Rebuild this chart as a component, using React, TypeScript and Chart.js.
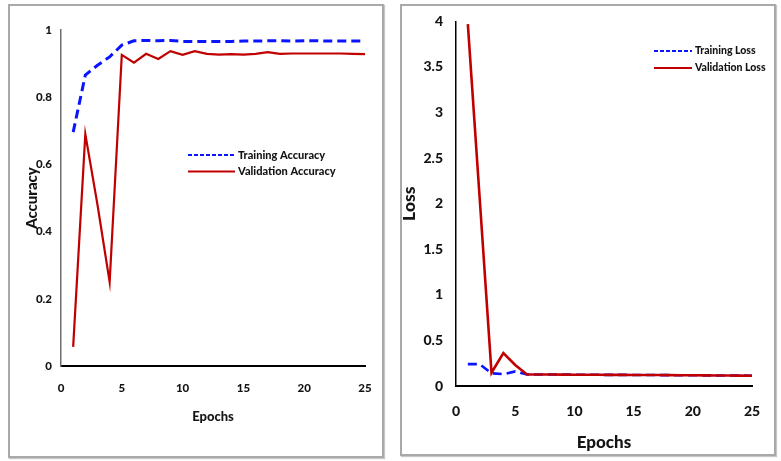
import React, { useEffect, useRef } from "react";
import { Chart, registerables } from "chart.js";

Chart.register(...registerables);

// ---------- data ----------
const epochs = [1, 2, 3, 4, 5, 6, 7, 8, 9, 10, 11, 12, 13, 14, 15, 16, 17, 18, 19, 20, 21, 22, 23, 24, 25];

const trainingAccuracy = [
  0.696, 0.866, 0.895, 0.92, 0.955, 0.968, 0.969, 0.968, 0.969, 0.966, 0.966, 0.966, 0.966,
  0.966, 0.967, 0.967, 0.968, 0.968, 0.967, 0.968, 0.968, 0.967, 0.967, 0.967, 0.967,
];
const validationAccuracy = [
  0.057, 0.69, 0.48, 0.25, 0.926, 0.903, 0.929, 0.914, 0.937, 0.926, 0.937, 0.929, 0.927,
  0.928, 0.927, 0.929, 0.934, 0.929, 0.93, 0.93, 0.93, 0.93, 0.93, 0.929, 0.928,
];

const trainingLoss = [
  0.24, 0.24, 0.14, 0.13, 0.16, 0.127, 0.126, 0.126, 0.125, 0.124, 0.124, 0.123, 0.122,
  0.122, 0.121, 0.12, 0.12, 0.119, 0.118, 0.118, 0.117, 0.116, 0.115, 0.114, 0.112,
];
const validationLoss = [
  3.97, 2.06, 0.145, 0.36, 0.23, 0.127, 0.126, 0.126, 0.125, 0.124, 0.124, 0.123, 0.122,
  0.122, 0.121, 0.12, 0.12, 0.119, 0.118, 0.118, 0.117, 0.116, 0.115, 0.114, 0.112,
];

const accuracyTicks = [0, 0.2, 0.4, 0.6, 0.8, 1];
const lossTicks = [0, 0.5, 1, 1.5, 2, 2.5, 3, 3.5, 4];
const epochTicks = [0, 5, 10, 15, 20, 25];

const accuracyLabels = ["Training Accuracy", "Validation Accuracy"];
const lossLabels = ["Training Loss", "Validation Loss"];

// ---------- styles ----------
const FONT = "Lato, 'DejaVu Sans', sans-serif";
const TEXT = "#141414";
const BLUE = "#0a14ff";
const RED = "#c00000";

const legendPlugin = {
  id: "panelLegend",
  afterDatasetsDraw(chart: any, _args: any, opts: any) {
    const { ctx } = chart;
    chart.data.datasets.forEach((ds: any, i: number) => {
      const y = opts.y + i * opts.rowGap;
      ctx.save();
      ctx.strokeStyle = ds.borderColor;
      ctx.lineWidth = opts.lineWidth;
      ctx.setLineDash(ds.borderDash && ds.borderDash.length ? opts.dash : []);
      ctx.beginPath();
      ctx.moveTo(opts.x, y);
      ctx.lineTo(opts.x + opts.lineLen, y);
      ctx.stroke();
      ctx.setLineDash([]);
      ctx.fillStyle = TEXT;
      ctx.font = opts.font;
      ctx.textAlign = "left";
      ctx.textBaseline = "middle";
      ctx.fillText(ds.label, opts.x + opts.lineLen + opts.gap, y);
      ctx.restore();
    });
  },
};

type Spec = {
  labels: string[];
  train: number[];
  valid: number[];
  yTicks: number[];
  yMax: number;
  yTitle: string;
  yTitleFont: any;
  yTitlePad: number;
  yWidth: number;
  yTickFont: any;
  yTickPad: number;
  yBorderColor: string;
  yBorderWidth: number;
  xHeight: number;
  xTickFont: any;
  xTickPad: number;
  xTitleFont: any;
  xTitlePad: number;
  padTop: number;
  padRight: number;
  trainWidth: number;
  validWidth: number;
  legend: any;
};

function buildConfig(s: Spec): any {
  return {
    type: "line",
    data: {
      datasets: [
        {
          label: s.labels[0],
          data: epochs.map((e, i) => ({ x: e, y: s.train[i] })),
          borderColor: BLUE,
          borderWidth: s.trainWidth,
          borderDash: [9, 5],
          pointRadius: 0,
          tension: 0,
          fill: false,
          order: 1,
        },
        {
          label: s.labels[1],
          data: epochs.map((e, i) => ({ x: e, y: s.valid[i] })),
          borderColor: RED,
          borderWidth: s.validWidth,
          pointRadius: 0,
          tension: 0,
          fill: false,
          order: 0,
        },
      ],
    },
    options: {
      responsive: false,
      animation: false,
      devicePixelRatio: 1,
      layout: { padding: { left: 0, top: s.padTop, right: s.padRight, bottom: 0 } },
      plugins: {
        legend: { display: false },
        tooltip: { enabled: false },
        panelLegend: s.legend,
      },
      scales: {
        x: {
          type: "linear",
          min: 0,
          max: 25,
          afterBuildTicks: (sc: any) => {
            sc.ticks = epochTicks.map((v) => ({ value: v }));
          },
          afterFit: (sc: any) => {
            sc.height = s.xHeight;
          },
          grid: { display: false, drawTicks: false },
          border: { display: true, color: "#000", width: 2 },
          ticks: {
            font: s.xTickFont,
            color: TEXT,
            padding: s.xTickPad,
            maxRotation: 0,
            autoSkip: false,
            callback: (v: any) => String(v),
          },
          title: {
            display: true,
            text: "Epochs",
            font: s.xTitleFont,
            color: TEXT,
            padding: { top: 0, bottom: s.xTitlePad },
          },
        },
        y: {
          type: "linear",
          min: 0,
          max: s.yMax,
          afterBuildTicks: (sc: any) => {
            sc.ticks = s.yTicks.map((v) => ({ value: v }));
          },
          afterFit: (sc: any) => {
            sc.width = s.yWidth;
          },
          grid: { display: false, drawTicks: false },
          border: { display: true, color: s.yBorderColor, width: s.yBorderWidth },
          ticks: {
            font: s.yTickFont,
            color: TEXT,
            padding: s.yTickPad,
            autoSkip: false,
            callback: (v: any) => String(v),
          },
          title: {
            display: true,
            text: s.yTitle,
            font: s.yTitleFont,
            color: TEXT,
            padding: { top: s.yTitlePad, bottom: 0 },
          },
        },
      },
    },
    plugins: [legendPlugin],
  };
}

const accuracySpec: Spec = {
  labels: accuracyLabels,
  train: trainingAccuracy,
  valid: validationAccuracy,
  yTicks: accuracyTicks,
  yMax: 1,
  yTitle: "Accuracy",
  yTitleFont: { family: FONT, size: 15, weight: "900", lineHeight: 1.2 },
  yTitlePad: 23,
  yWidth: 61,
  yTickFont: { family: FONT, size: 11.5, weight: "900", lineHeight: 1.2 },
  yTickPad: 9,
  yBorderColor: "#6e6e6e",
  yBorderWidth: 1.5,
  xHeight: 95,
  xTickFont: { family: FONT, size: 11.5, weight: "900", lineHeight: 1.2 },
  xTickPad: 15.1,
  xTitleFont: { family: FONT, size: 13, weight: "900", lineHeight: 1.2 },
  xTitlePad: 36.2,
  padTop: 30,
  padRight: 25,
  trainWidth: 3,
  validWidth: 2.2,
  legend: { x: 188, y: 155, rowGap: 16.5, lineLen: 47, gap: 3, lineWidth: 2, dash: [4, 2], font: `900 11px ${FONT}` },
};

const lossSpec: Spec = {
  labels: lossLabels,
  train: trainingLoss,
  valid: validationLoss,
  yTicks: lossTicks,
  yMax: 4,
  yTitle: "Loss",
  yTitleFont: { family: FONT, size: 17.5, weight: "900", lineHeight: 1.2 },
  yTitlePad: 0.5,
  yWidth: 58,
  yTickFont: { family: FONT, size: 14, weight: "900", lineHeight: 1.2 },
  yTickPad: 13,
  yBorderColor: "#000",
  yBorderWidth: 1.5,
  xHeight: 75,
  xTickFont: { family: FONT, size: 14, weight: "900", lineHeight: 1.2 },
  xTickPad: 17.3,
  xTitleFont: { family: FONT, size: 17, weight: "900", lineHeight: 1.2 },
  xTitlePad: 7.8,
  padTop: 19,
  padRight: 26,
  trainWidth: 2.6,
  validWidth: 2.6,
  legend: { x: 256, y: 51, rowGap: 17, lineLen: 38, gap: 3, lineWidth: 2, dash: [4, 2], font: `900 10.5px ${FONT}` },
};

function Panel({ spec, left, width }: { spec: Spec; left: number; width: number }) {
  const ref = useRef<HTMLCanvasElement | null>(null);
  useEffect(() => {
    if (!ref.current) return;
    const chart = new Chart(ref.current, buildConfig(spec));
    return () => chart.destroy();
  }, [spec]);
  return (
    <canvas
      ref={ref}
      width={width}
      height={461}
      style={{ position: "absolute", left, top: 0, width, height: 461 }}
    />
  );
}

export default function App() {
  return (
    <div
      style={{
        position: "fixed",
        left: 0,
        top: 0,
        width: 781,
        height: 461,
        background: "#fff",
        overflow: "hidden",
      }}
    >
      <div
        style={{
          position: "absolute",
          left: 8,
          top: 4,
          width: 376,
          height: 454,
          boxSizing: "border-box",
          border: "2px solid #a9a9a9",
          boxShadow: "1px 1px 1px #c8c8c8",
        }}
      />
      <div
        style={{
          position: "absolute",
          left: 400,
          top: 4,
          width: 376,
          height: 452,
          boxSizing: "border-box",
          border: "2px solid #a9a9a9",
          boxShadow: "1px 1px 1px #c8c8c8",
        }}
      />
      <Panel spec={accuracySpec} left={0} width={390} />
      <Panel spec={lossSpec} left={398} width={380} />
    </div>
  );
}
